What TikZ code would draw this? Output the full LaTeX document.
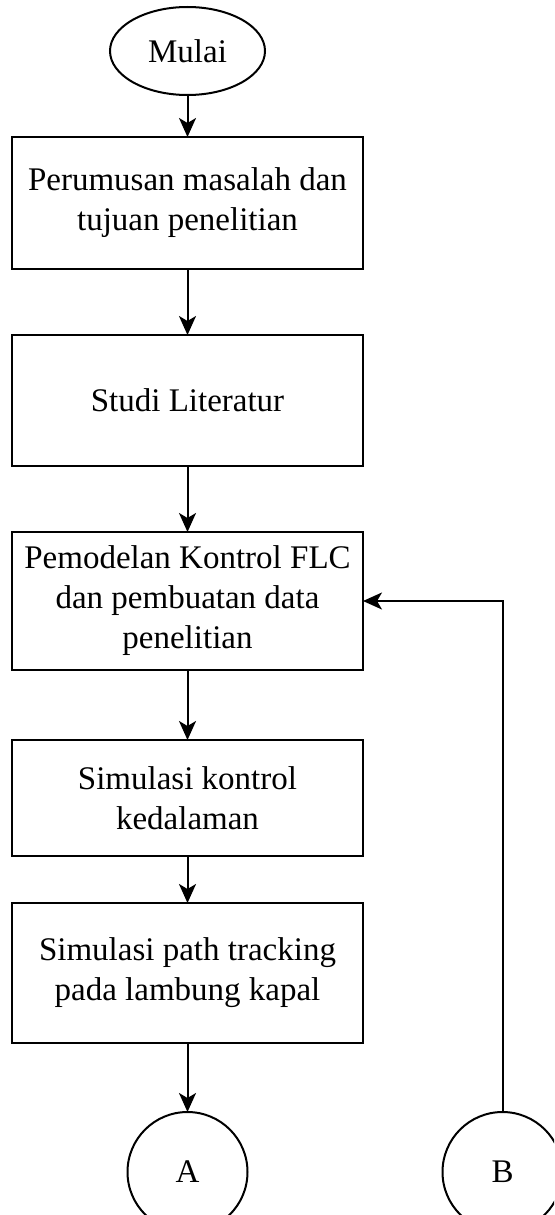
\documentclass[tikz,border=0pt]{standalone}
\usepackage{fontspec}
\setmainfont{Liberation Serif}
\usetikzlibrary{positioning,arrows.meta,shapes.geometric}

\begin{document}
\begin{tikzpicture}[x=1pt, y=1pt, >={Stealth[length=19pt, width=17pt, inset=5pt]},
    line width=2pt, font=\fontsize{33}{40}\selectfont,
    flowbox/.style={draw, align=center, minimum width=351pt, inner sep=0pt, outer sep=0pt},
    terminal/.style={draw, ellipse, minimum width=155pt, minimum height=88pt, inner sep=0pt, outer sep=0pt},
    connector/.style={draw, circle, minimum size=120pt, inner sep=0pt, outer sep=0pt}]
    \clip (0,0) rectangle (554,-1215);
    % Nodes
    \node[terminal] (mulai) at (187.5,-51) {Mulai};
    \node[flowbox, minimum height=132pt, below=42pt of mulai] (rumusan) {Perumusan masalah dan\\tujuan penelitian};
    \node[flowbox, minimum height=131pt, below=66pt of rumusan] (studi) {Studi Literatur};
    \node[flowbox, minimum height=138pt, below=66pt of studi] (model) {Pemodelan Kontrol FLC\\dan pembuatan data\\penelitian};
    \node[flowbox, minimum height=116pt, below=70pt of model] (simkontrol) {Simulasi kontrol\\kedalaman};
    \node[flowbox, minimum height=140pt, below=47pt of simkontrol] (simpath) {Simulasi path tracking\\pada lambung kapal};
    \node[connector, below=69pt of simpath] (A) {A};
    \node[connector, right=195pt of A] (B) {B};

    % Arrows
    \draw[->] (mulai) -- (rumusan);
    \draw[->] (rumusan) -- (studi);
    \draw[->] (studi) -- (model);
    \draw[->] (model) -- (simkontrol);
    \draw[->] (simkontrol) -- (simpath);
    \draw[->] (simpath) -- (A);
    \draw[->] (B.north) |- (model.east);
\end{tikzpicture}
\end{document}
